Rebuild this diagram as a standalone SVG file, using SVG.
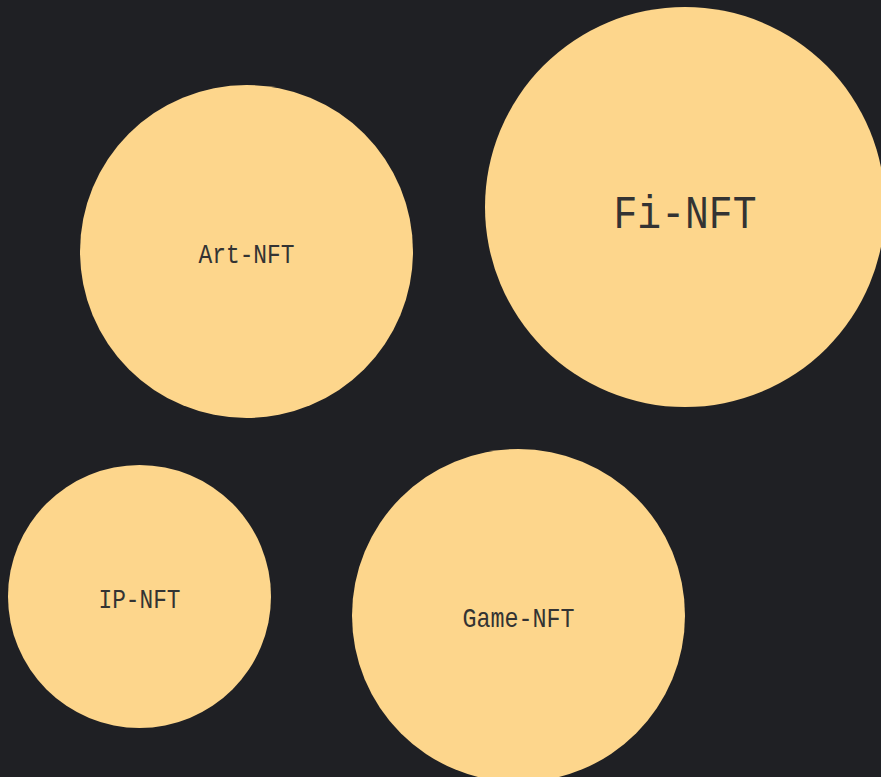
<svg xmlns="http://www.w3.org/2000/svg" width="881" height="777" viewBox="0 0 881 777">
<style>
.bubble{fill:#fdd68c;}
.lbl{font-family:"Liberation Mono","DejaVu Sans Mono",monospace;fill:#333333;text-anchor:middle;font-size:28px;}
</style>
<rect x="0" y="0" width="881" height="777" fill="#1f2024"/>
<g id="connectors"/>
<g id="art-nft">
<circle class="bubble" cx="246.5" cy="251.5" r="166.5"/>
<text class="lbl" x="246.5" y="263" textLength="96" lengthAdjust="spacingAndGlyphs">Art-NFT</text>
</g>
<g id="fi-nft">
<circle class="bubble" cx="685" cy="207" r="200"/>
<text class="lbl" x="685" y="228" style="font-size:46px" textLength="143" lengthAdjust="spacingAndGlyphs">Fi-NFT</text>
</g>
<g id="ip-nft">
<circle class="bubble" cx="139.5" cy="596.5" r="131.5"/>
<text class="lbl" x="139.5" y="608" textLength="82" lengthAdjust="spacingAndGlyphs">IP-NFT</text>
</g>
<g id="game-nft">
<circle class="bubble" cx="518.5" cy="615.5" r="166.5"/>
<text class="lbl" x="518.5" y="627" textLength="112" lengthAdjust="spacingAndGlyphs">Game-NFT</text>
</g>
</svg>
